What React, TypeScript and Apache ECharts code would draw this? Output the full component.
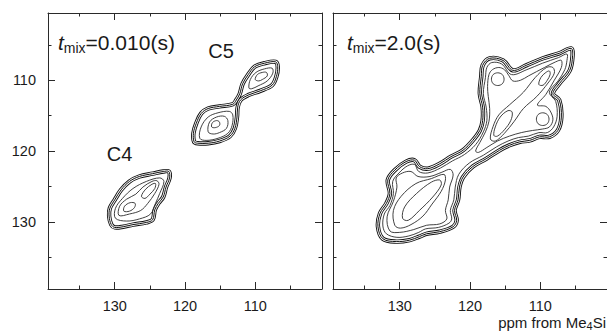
import React, { useEffect, useRef } from "react";
import * as echarts from "echarts";

// ---- axes (ppm) ----
const xRange = [100.5, 139.5];
const yRange = [100.5, 139.5];
const majorTicks = [110, 120, 130];
const minorTicks = [105, 115, 125, 135];
const tickLabels = [110, 120, 130];

// ---- left panel, tmix = 0.010 s (ppm pairs [F2, F1]) ----
const c5Outer = [[118.7,118.7],[118.8,117.5],[118.4,116.1],[117.7,114.7],[116.7,114.0],[115.1,113.7],[113.2,113.4],[112.7,112.8],[112.2,111.9],[111.8,110.5],[111.0,109.2],[110.1,108.1],[108.7,107.6],[107.1,107.4],[106.8,108.1],[107.0,109.5],[107.6,110.7],[109.3,111.5],[111.0,112.1],[112.1,112.8],[112.5,113.8],[112.6,115.2],[112.9,116.8],[113.6,117.9],[115.1,118.6],[116.7,118.9],[118.2,118.9]];
const c5LowA = [[117.9,118.2],[117.7,116.6],[116.7,115.2],[115.3,114.6],[113.7,114.4],[113.2,114.9],[113.3,116.4],[113.9,117.5],[115.3,118.2],[117.0,118.5]];
const c5LowB = [[116.7,117.3],[116.5,115.9],[115.5,115.2],[114.4,115.1],[113.9,115.7],[114.1,116.8],[115.1,117.4],[116.0,117.6]];
const c5LowC = [[116.2,116.6],[116.1,116.0],[115.5,115.7],[115.1,115.9],[115.1,116.4],[115.7,116.7]];
const c5UpA = [[110.9,111.1],[110.7,109.9],[109.9,108.9],[108.7,108.4],[107.6,108.3],[107.5,109.0],[108.3,110.1],[109.6,110.8],[110.5,111.2]];
const c5UpB = [[110.0,109.9],[109.7,109.2],[109.0,108.9],[108.4,108.9],[108.3,109.4],[109.0,109.9],[109.5,110.1]];
const c4Outer = [[130.5,130.4],[130.8,129.2],[130.7,128.1],[130.0,126.9],[129.1,125.5],[127.9,124.3],[126.5,123.6],[124.6,123.2],[123.1,122.9],[122.3,122.9],[122.2,123.8],[122.7,125.1],[123.1,126.5],[123.8,127.4],[124.3,128.3],[124.6,129.7],[125.5,130.1],[127.4,130.4],[128.8,130.7],[130.0,130.8]];
const c4A = [[129.9,129.5],[129.9,128.1],[128.9,126.7],[127.4,125.3],[125.5,124.3],[123.6,123.8],[123.0,124.3],[123.6,126.0],[124.2,127.4],[124.9,128.9],[126.5,129.6],[128.3,129.9]];
const c4B = [[129.4,129.1],[129.3,127.8],[128.3,126.8],[127.0,126.1],[126.0,125.1],[124.7,124.3],[124.0,124.2],[123.7,124.7],[124.3,126.0],[125.3,127.4],[126.3,128.4],[127.9,128.9]];
const c4C1 = [[128.7,128.5],[128.6,127.8],[127.8,127.3],[127.1,127.4],[127.2,128.0],[127.9,128.5]];
const c4C2 = [[126.2,126.4],[125.6,125.4],[124.7,124.7],[124.2,124.6],[124.3,125.3],[125.0,126.1],[125.7,126.7]];

// ---- right panel, tmix = 2.0 s ----
const rOuter = [[132.4,132.4],[133.1,130.7],[132.8,128.8],[131.9,127.4],[131.4,126.0],[131.7,124.1],[130.7,122.7],[129.1,121.5],[127.9,121.3],[127.2,122.2],[126.0,122.5],[124.3,121.8],[122.7,120.8],[121.0,119.9],[119.6,118.5],[118.6,117.1],[118.2,115.7],[118.2,113.8],[118.6,111.9],[118.4,109.5],[118.2,107.9],[117.2,106.9],[115.3,107.2],[113.9,108.6],[112.0,107.9],[109.6,106.9],[107.3,106.2],[105.6,105.5],[105.4,106.5],[105.8,108.6],[107.3,110.5],[108.2,111.9],[107.3,112.8],[107.0,115.2],[107.5,117.1],[108.7,118.0],[110.1,118.0],[111.5,118.5],[112.9,118.7],[114.4,119.2],[115.8,119.9],[117.7,121.1],[119.6,122.2],[121.0,123.7],[121.5,125.1],[121.7,126.9],[122.2,128.4],[121.9,129.8],[122.4,130.7],[124.3,131.4],[126.2,131.7],[127.2,132.1],[128.6,132.6],[130.5,132.8]];
const rSecond = [[131.9,131.7],[132.4,130.6],[132.2,128.9],[131.4,127.7],[130.9,126.0],[131.0,124.3],[130.1,123.1],[128.9,122.1],[127.9,121.9],[127.3,122.9],[126.0,123.1],[124.2,122.4],[122.5,121.4],[120.8,120.5],[119.2,119.1],[118.1,117.3],[117.6,115.7],[117.7,113.8],[118.1,111.9],[117.8,109.6],[117.6,108.2],[116.9,107.5],[115.5,107.7],[114.1,109.2],[111.9,108.5],[109.7,107.6],[107.4,106.8],[106.2,106.3],[106.2,107.2],[106.5,108.5],[107.4,110.0],[108.7,111.7],[107.8,113.0],[107.6,115.1],[108.1,116.6],[109.0,117.4],[110.2,117.4],[111.7,117.9],[113.1,118.1],[114.6,118.6],[116.2,119.4],[118.1,120.6],[120.1,121.7],[121.6,123.3],[122.1,125.1],[122.3,126.9],[122.8,128.4],[122.6,129.6],[123.0,130.2],[124.5,130.8],[126.3,131.0],[127.3,131.5],[128.7,132.0],[130.4,132.2]];
const rLowA = [[131.4,131.3],[131.8,129.3],[130.9,127.1],[130.4,125.1],[130.5,123.8],[129.6,123.1],[128.4,122.9],[127.4,123.6],[125.7,123.6],[124.0,123.0],[122.8,122.6],[122.4,123.4],[122.9,125.1],[123.1,126.9],[123.5,128.4],[123.3,129.6],[124.3,130.3],[126.2,130.5],[128.0,131.1],[130.0,131.5]];
const rLowB = [[130.7,130.5],[130.9,128.4],[129.8,126.4],[127.7,124.6],[125.5,123.9],[123.7,123.3],[123.5,124.1],[124.1,125.7],[125.4,127.5],[126.7,129.2],[128.4,130.4],[129.9,130.9]];
const rLowC = [[129.6,129.5],[129.3,127.9],[127.6,126.0],[125.5,124.4],[124.3,124.1],[124.1,124.8],[125.3,126.5],[127.2,128.4],[128.8,129.8]];
const rUpA = [[119.2,120.0],[118.6,118.8],[117.8,117.3],[117.3,115.8],[117.2,114.0],[117.4,112.3],[117.5,110.9],[117.3,109.2],[116.8,108.5],[115.9,108.2],[115.1,108.5],[114.5,109.3],[113.9,110.1],[112.8,110.0],[111.7,109.4],[109.4,108.2],[107.8,107.4],[107.0,107.2],[107.0,108.2],[108.0,110.0],[109.2,112.0],[110.4,113.5],[109.2,113.7],[108.5,114.5],[108.2,115.6],[108.7,116.6],[109.7,116.9],[111.1,117.1],[112.7,117.4],[114.4,117.9],[116.1,118.6],[117.6,119.5],[118.8,120.2]];
const rUpB = [[117.1,118.3],[116.7,116.5],[115.9,114.9],[114.4,113.5],[112.4,111.7],[110.7,109.6],[109.1,108.2],[108.2,108.2],[108.0,109.0],[108.9,110.4],[110.5,112.3],[112.4,114.0],[113.7,115.8],[115.1,117.5],[116.4,118.6]];
const rCentre = [[116.6,117.8],[116.4,116.6],[115.7,115.2],[114.6,114.3],[114.0,114.5],[114.2,115.7],[115.1,117.0],[116.1,117.9]];
const rTopRight = [[110.2,110.6],[109.9,109.6],[109.2,108.9],[108.7,108.7],[108.6,109.2],[109.0,110.0],[109.6,110.7]];
const rUpperLeft = [[116.95,109.85],[116.7,109.2],[116.05,108.95],[115.4,109.2],[115.15,109.85],[115.4,110.5],[116.05,110.75],[116.7,110.5]];
const rLowerRight = [[110.55,115.5],[110.3,114.85],[109.65,114.6],[109.0,114.85],[108.75,115.5],[109.0,116.15],[109.65,116.4],[110.3,116.15]];

const leftBands = [c5Outer, c4Outer];
const leftLines = [c5LowA, c5LowB, c5LowC, c5UpA, c5UpB, c4A, c4B, c4C1, c4C2];
const rightBands = [rOuter];
const rightLines = [rSecond, rLowA, rLowB, rLowC, rUpA, rUpB, rCentre, rTopRight, rUpperLeft, rLowerRight];

const FONT = "'Liberation Sans', Arial, Helvetica, sans-serif";
const INK = "#1a1a1a";
const AXIS = "#2a2a2a";

function contourSeries(pts: number[][], g: number, band: boolean) {
  return {
    type: "custom",
    coordinateSystem: "cartesian2d",
    xAxisIndex: g * 4,
    yAxisIndex: g * 4,
    data: pts,
    silent: true,
    renderItem: (params: any, api: any) => {
      if (params.dataIndex !== 0) return null;
      const points = pts.map((p) => api.coord(p));
      const shape = { points, smooth: 0.35 };
      if (!band) {
        return { type: "polygon", shape, style: { fill: "none", stroke: "#2b2b2b", lineWidth: 0.9 } };
      }
      return {
        type: "group",
        children: [
          { type: "polygon", shape, style: { fill: "none", stroke: "#111", lineWidth: 4.4 } },
          { type: "polygon", shape, style: { fill: "none", stroke: "#fff", lineWidth: 2.6 } },
          { type: "polygon", shape, style: { fill: "none", stroke: "#111", lineWidth: 1 } },
        ],
      };
    },
  };
}

function tick(len: number, values: number[]) {
  return { show: true, inside: true, length: len, customValues: values, lineStyle: { color: AXIS, width: 1 } };
}
const lineOn = { show: true, onZero: false, lineStyle: { color: AXIS, width: 1 } };
const lineOff = { show: false, onZero: false };

function xAxes(g: number) {
  const base = { type: "value", gridIndex: g, min: xRange[0], max: xRange[1], inverse: true, splitLine: { show: false } };
  return [
    { ...base, position: "bottom", axisLine: lineOn, axisTick: tick(7, majorTicks),
      axisLabel: { show: true, customValues: tickLabels, margin: 9, fontSize: 14.5, fontFamily: FONT, color: INK } },
    { ...base, position: "bottom", axisLine: lineOff, axisTick: tick(3.5, minorTicks), axisLabel: { show: false } },
    { ...base, position: "top", axisLine: lineOn, axisTick: tick(7, majorTicks), axisLabel: { show: false } },
    { ...base, position: "top", axisLine: lineOff, axisTick: tick(3.5, minorTicks), axisLabel: { show: false } },
  ];
}
function yAxes(g: number) {
  const base = { type: "value", gridIndex: g, min: yRange[0], max: yRange[1], inverse: true, splitLine: { show: false } };
  return [
    { ...base, position: "left", axisLine: lineOn, axisTick: tick(7, majorTicks),
      axisLabel: g === 0
        ? { show: true, customValues: tickLabels, margin: 12, fontSize: 14.5, fontFamily: FONT, color: INK }
        : { show: false } },
    { ...base, position: "left", axisLine: lineOff, axisTick: tick(3.5, minorTicks), axisLabel: { show: false } },
    { ...base, position: "right", axisLine: lineOn, axisTick: tick(7, majorTicks), axisLabel: { show: false } },
    { ...base, position: "right", axisLine: lineOff, axisTick: tick(3.5, minorTicks), axisLabel: { show: false } },
  ];
}

function titleText(x: number, value: string) {
  return {
    type: "text",
    x,
    y: 42,
    style: {
      text: `{t|t}{s|mix}{n|=${value}}`,
      align: "left",
      verticalAlign: "middle",
      rich: {
        t: { fontSize: 21, fontStyle: "italic", fontFamily: FONT, lineHeight: 26, fill: INK },
        s: { fontSize: 14, fontFamily: FONT, lineHeight: 16, verticalAlign: "bottom", fill: INK },
        n: { fontSize: 21, fontFamily: FONT, lineHeight: 26, fill: INK },
      },
    },
  };
}

export default function App() {
  const ref = useRef<HTMLDivElement>(null);
  useEffect(() => {
    if (!ref.current) return;
    const chart = echarts.init(ref.current, undefined, { renderer: "svg" });
    const series: any[] = [
      ...leftBands.map((c) => contourSeries(c, 0, true)),
      ...leftLines.map((c) => contourSeries(c, 0, false)),
      ...rightBands.map((c) => contourSeries(c, 1, true)),
      ...rightLines.map((c) => contourSeries(c, 1, false)),
    ];
    chart.setOption({
      animation: false,
      backgroundColor: "#ffffff",
      grid: [
        { left: 48, top: 13, width: 274, height: 276 },
        { left: 333, top: 13, width: 275, height: 276 },
      ],
      xAxis: [...xAxes(0), ...xAxes(1)],
      yAxis: [...yAxes(0), ...yAxes(1)],
      series,
      graphic: [
        titleText(58, "0.010(s)"),
        titleText(347, "2.0(s)"),
        { type: "text", x: 221, y: 51, style: { text: "C5", fontSize: 20, fontFamily: FONT, fill: INK, align: "center", verticalAlign: "middle" } },
        { type: "text", x: 119.5, y: 154, style: { text: "C4", fontSize: 20, fontFamily: FONT, fill: INK, align: "center", verticalAlign: "middle" } },
        {
          type: "text",
          x: 606,
          y: 322,
          style: {
            text: "{n|ppm from Me}{s|4}{n|Si}",
            align: "right",
            verticalAlign: "middle",
            rich: {
              n: { fontSize: 15, fontFamily: FONT, lineHeight: 18, fill: INK },
              s: { fontSize: 11, fontFamily: FONT, lineHeight: 12, verticalAlign: "bottom", fill: INK },
            },
          },
        },
      ],
    });
    return () => chart.dispose();
  }, []);
  return (
    <div
      ref={ref}
      style={{ position: "fixed", left: 0, top: 0, width: 607, height: 331, background: "#fff" }}
    />
  );
}
